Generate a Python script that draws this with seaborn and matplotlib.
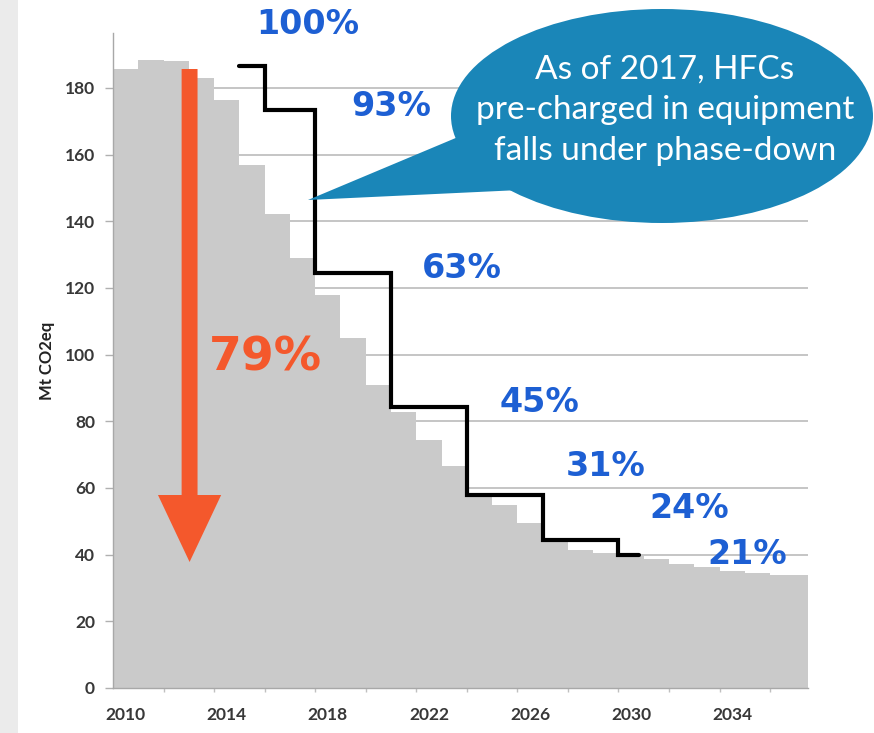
import numpy as np
import pandas as pd
import seaborn as sns
import matplotlib
matplotlib.use("Agg")
import matplotlib.pyplot as plt
from matplotlib.patches import Ellipse, Polygon, FancyArrow, Rectangle

# ---------------- data ----------------
years = list(range(2010, 2038))
emissions = [185.7, 188.5, 188.2, 183.0, 176.3, 157.0, 142.1, 128.9, 117.9, 104.9,
             90.9, 82.9, 74.4, 66.6, 57.5, 55.0, 49.5, 43.7, 41.3, 40.6,
             39.5, 38.6, 37.2, 36.2, 35.2, 34.5, 34.0, 33.9]

# phase-down cap (step line): category boundary positions and levels
phase_pos = [4.5, 5.5, 7.5, 10.5, 13.5, 16.5, 19.5, 20.3]
phase_cap = [186.6, 173.4, 124.4, 84.4, 57.9, 44.4, 39.9, 39.9]
phase_labels = ["100%", "93%", "63%", "45%", "31%", "24%", "21%"]

xtick_years = [2010, 2014, 2018, 2022, 2026, 2030, 2034]
yticks = [0, 20, 40, 60, 80, 100, 120, 140, 160, 180]

W, H = 874, 733
sns.set_theme(style="white")
plt.rcParams['font.family'] = ['DejaVu Sans']

fig = plt.figure(figsize=(W / 100, H / 100), dpi=100)
fig.patch.set_facecolor("white")

def px(x, y):
    return (x / W, 1 - y / H)

# left slide strip
fig.patches.append(Rectangle((0, 0), 18 / W, 1, transform=fig.transFigure,
                             facecolor="#ebebeb", edgecolor="none", zorder=0))

ax = fig.add_axes([113 / W, (H - 688) / H, (808 - 113) / W, (688 - 33) / H])
ax.set_facecolor("none")

df = pd.DataFrame({"year": [str(y) for y in years], "emissions": emissions})
sns.barplot(data=df, x="year", y="emissions", color="#cacaca", saturation=1,
            width=1.0, linewidth=0, edgecolor="none", ax=ax, zorder=2)

# step line
sd = pd.DataFrame({"pos": phase_pos, "cap": phase_cap})
sns.lineplot(data=sd, x="pos", y="cap", drawstyle="steps-post", color="black",
             linewidth=3.0, ax=ax, zorder=4, solid_joinstyle="miter")

ax.set_xlim(-0.5, 27.0)
ax.set_ylim(0, 196.5)

# grid
for v in yticks[1:]:
    ax.axhline(v, color="#b5b5b5", linewidth=1.1, zorder=1)

tick_font = dict(fontfamily="Lato", fontweight="bold", fontsize=12.5, color="#383838")
ax.set_yticks(yticks)
ax.set_yticklabels([str(v) for v in yticks], **tick_font)
ax.set_xticks([years.index(y) for y in xtick_years])
ax.set_xticklabels([str(y) for y in xtick_years], **tick_font)
ax.set_xticks(np.arange(1.5, 26, 2), minor=True)
ax.tick_params(axis="y", which="major", length=6, width=1, color="#b0b0b0", pad=7, left=True)
ax.tick_params(axis="x", which="major", length=0, pad=14)
ax.tick_params(axis="x", which="minor", length=3, width=1, color="#c0c0c0", bottom=True)
ax.set_xlabel("")
ax.set_ylabel("Mt CO2eq", fontfamily="Lato", fontweight="bold", fontsize=12,
              color="#222222", labelpad=7)

for s in ["top", "right"]:
    ax.spines[s].set_visible(False)
for s in ["left", "bottom"]:
    ax.spines[s].set_color("#a8a8a8")
    ax.spines[s].set_linewidth(1.0)

# orange arrow
ax.add_patch(FancyArrow(2.53, 185.7, 0, -(185.7 - 37.8), width=0.63, head_width=2.5,
                        head_length=20.1, length_includes_head=True,
                        facecolor="#f4582c", edgecolor="none", zorder=5))
fig.text(*px(265, 358), "79%", ha="center", va="center", fontsize=34,
         fontweight="bold", color="#f4582c")

# percentage labels
label_px = [(308, 25), (391, 106), (462, 269), (539, 403), (606, 467), (689, 509), (747, 554)]
for lab, (x, y) in zip(phase_labels, label_px):
    fig.text(*px(x, y), lab, ha="center", va="center", fontsize=24,
             fontweight="bold", color="#1d5fd3", zorder=6)

# speech bubble
bubble_col = "#1a86b8"
fig.patches.append(Ellipse(px(662, 116), 422 / W, 214 / H, transform=fig.transFigure,
                           facecolor=bubble_col, edgecolor="none", zorder=7))
fig.patches.append(Polygon([px(308, 200), px(470, 132), px(520, 190)], closed=True,
                           transform=fig.transFigure, facecolor=bubble_col,
                           edgecolor="none", zorder=7))
for txt, y in zip(["As of 2017, HFCs", "pre-charged in equipment", "falls under phase-down"],
                  [70, 110, 151]):
    fig.text(*px(665, y), txt, ha="center", va="center", fontsize=24,
             fontfamily="Lato", color="white", zorder=8)

fig.savefig("out.png", dpi=100)
